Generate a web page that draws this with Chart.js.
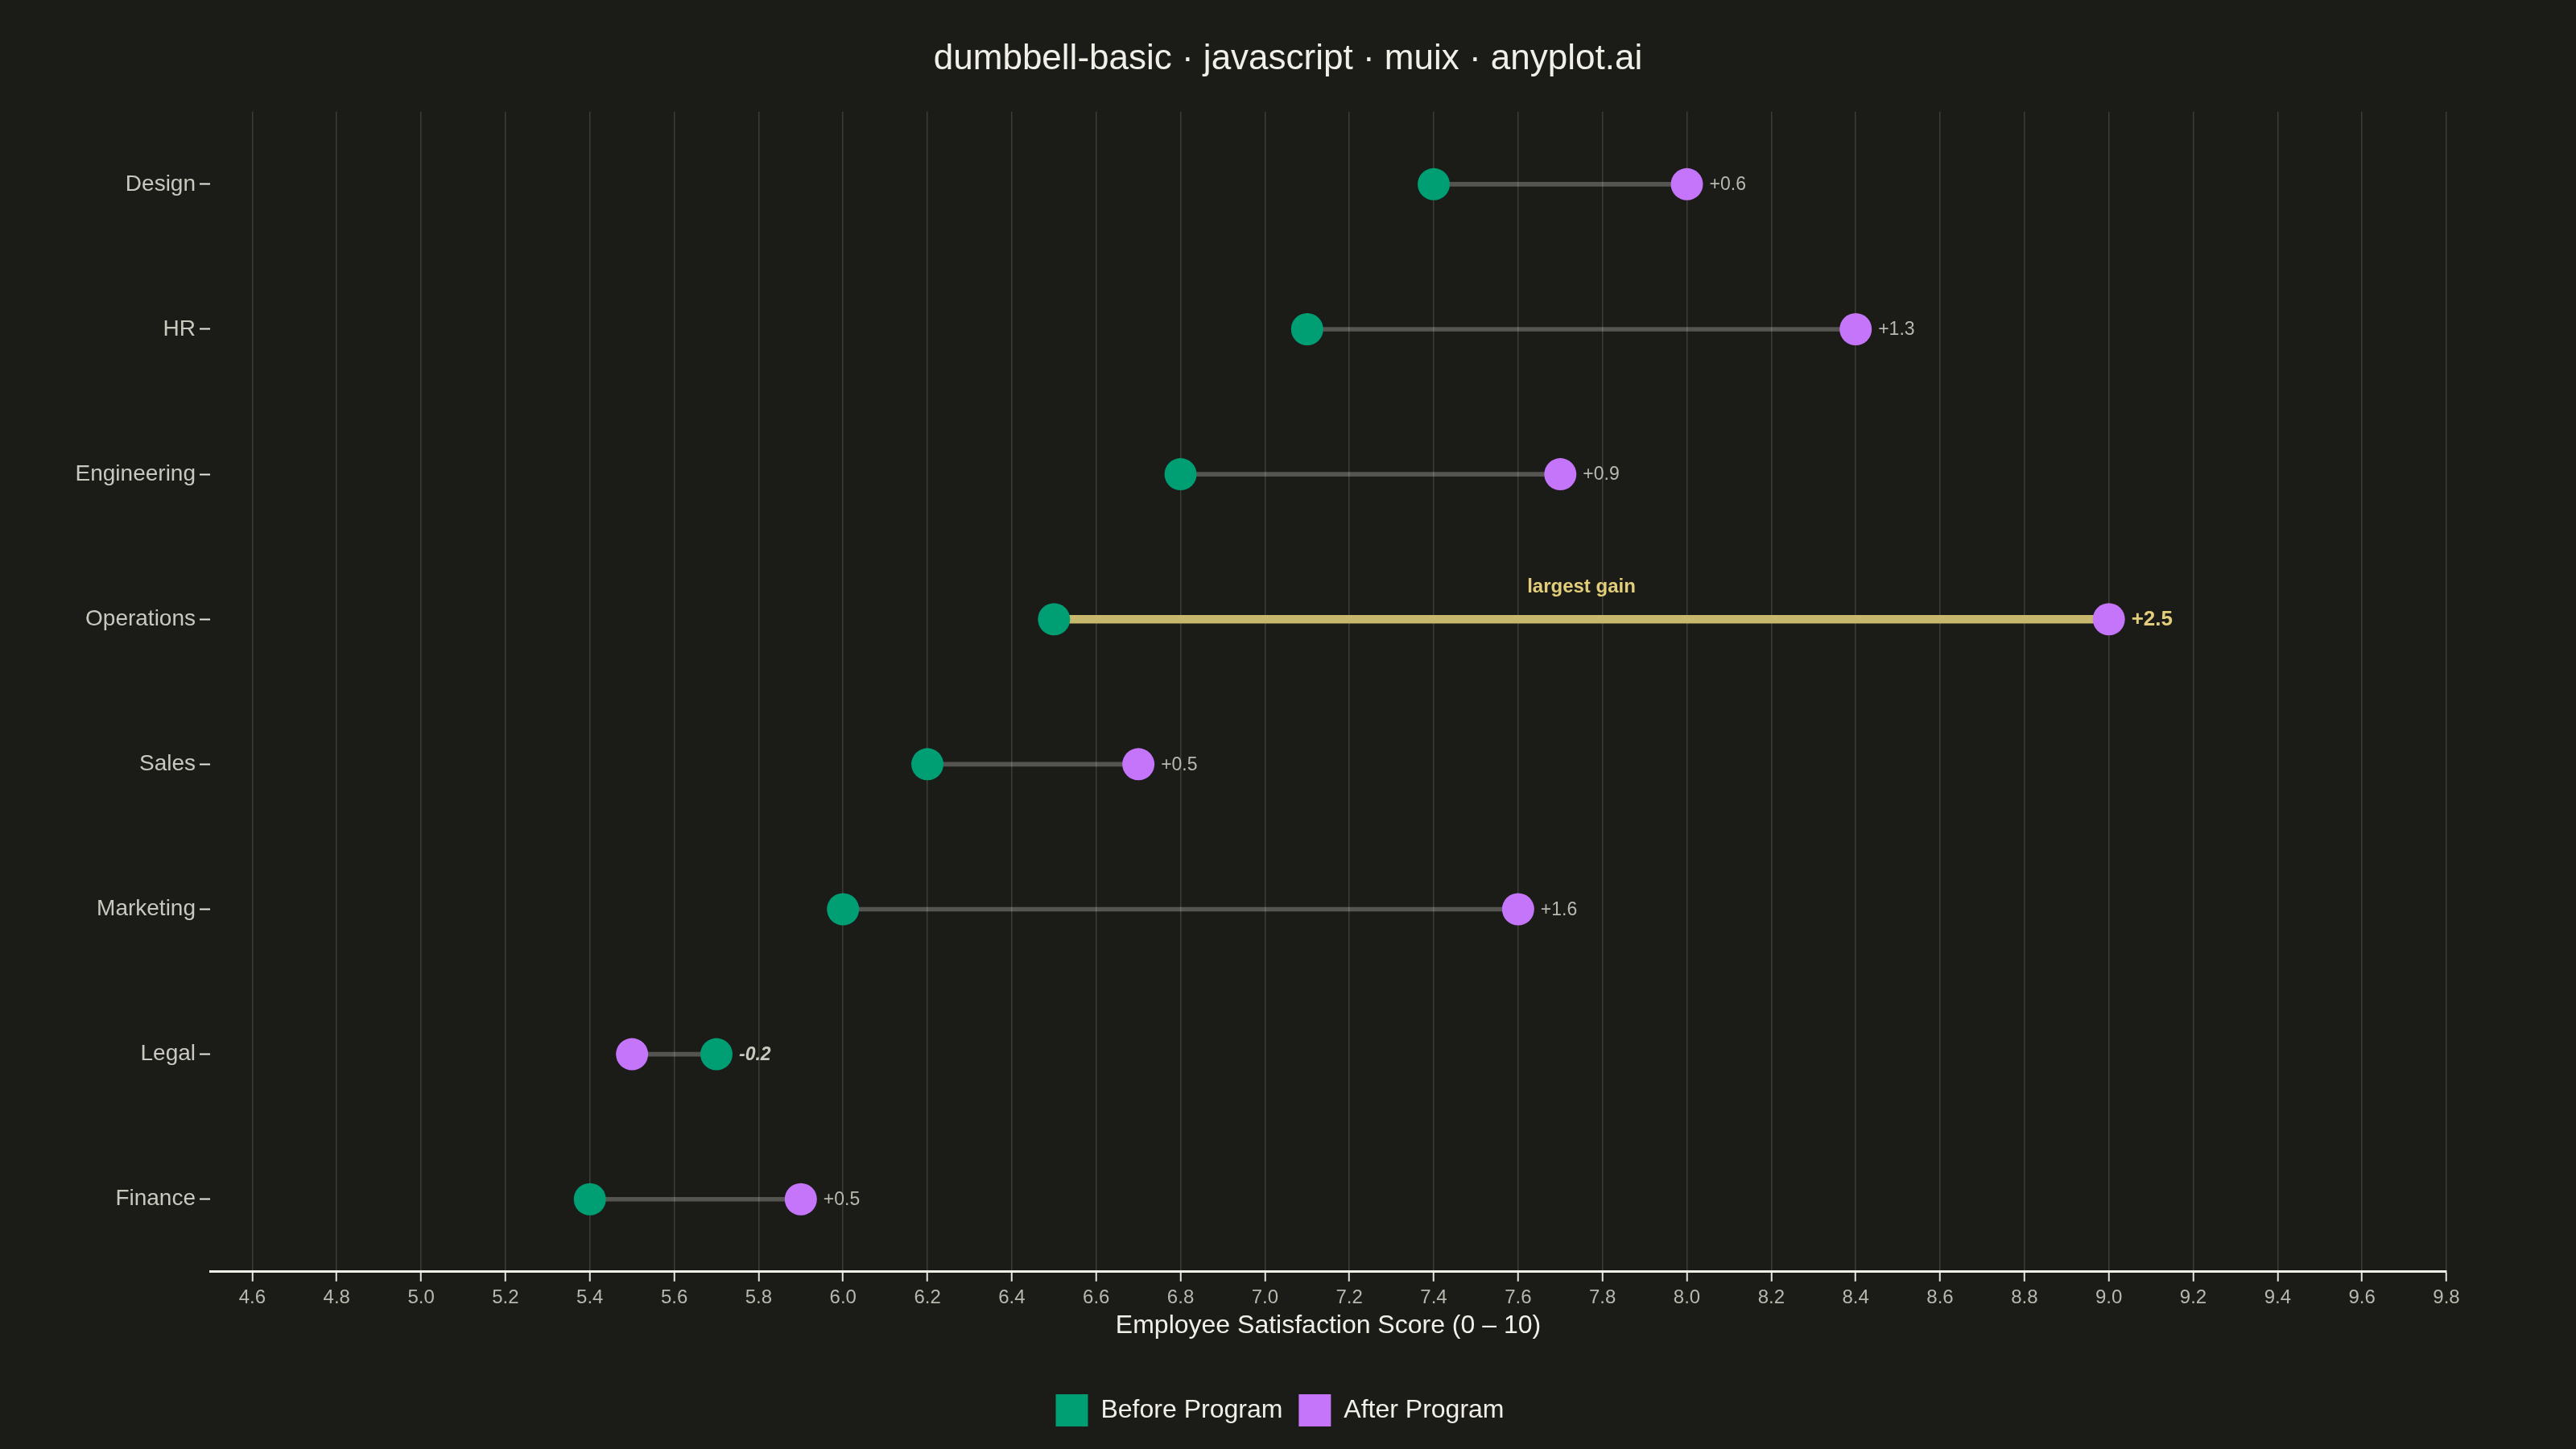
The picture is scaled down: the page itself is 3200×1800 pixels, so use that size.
<!DOCTYPE html>
<html>
<head>
<meta charset="utf-8">
<script src="https://cdn.jsdelivr.net/npm/chart.js@4.4.1/dist/chart.umd.min.js"></script>
<style>
  html, body { margin: 0; padding: 0; background: #1b1b17; }
  #wrap { width: 3200px; height: 1800px; }
</style>
</head>
<body>
<div id="wrap"><canvas id="chart" width="3200" height="1800"></canvas></div>
<script>
// Data
const departments = ['Design', 'HR', 'Engineering', 'Operations', 'Sales', 'Marketing', 'Legal', 'Finance']
const beforeScores = [7.4, 7.1, 6.8, 6.5, 6.2, 6.0, 5.7, 5.4]
const afterScores = [8.0, 8.4, 7.7, 9.0, 6.7, 7.6, 5.5, 5.9]
const xTickValues = [4.6, 4.8, 5.0, 5.2, 5.4, 5.6, 5.8, 6.0, 6.2, 6.4, 6.6, 6.8, 7.0, 7.2, 7.4, 7.6, 7.8,
  8.0, 8.2, 8.4, 8.6, 8.8, 9.0, 9.2, 9.4, 9.6, 9.8]

const GREEN = '#009E73'
const PURPLE = '#C475F9'
const GOLD = '#C8B86E'
const GOLD_TEXT = '#E2CE7A'
const FONT = "'Liberation Sans', Arial, sans-serif"

const gains = departments.map((d, i) => afterScores[i] - beforeScores[i])
const best = gains.indexOf(Math.max(...gains))

// Gain labels to the right of each dumbbell
const gainLabels = {
  id: 'gainLabels',
  afterDatasetsDraw(chart) {
    const { ctx, scales: { x, y } } = chart
    ctx.save()
    ctx.textBaseline = 'middle'
    departments.forEach((d, i) => {
      const g = gains[i]
      const text = (g > 0 ? '+' : '') + g.toFixed(1)
      const px = x.getPixelForValue(Math.max(beforeScores[i], afterScores[i])) + 28
      const py = y.getPixelForValue(i)
      ctx.textAlign = 'left'
      if (i === best) {
        ctx.font = `bold 26px ${FONT}`
        ctx.fillStyle = GOLD_TEXT
      } else if (g < 0) {
        ctx.font = `italic bold 23px ${FONT}`
        ctx.fillStyle = '#c9c8bf'
      } else {
        ctx.font = `23px ${FONT}`
        ctx.fillStyle = '#b9b8af'
      }
      ctx.fillText(text, px, py + 1)
      if (i === best) {
        const mid = x.getPixelForValue((beforeScores[i] + afterScores[i]) / 2)
        ctx.textAlign = 'center'
        ctx.font = `bold 24px ${FONT}`
        ctx.fillText('largest gain', mid, py - 40)
      }
    })
    ctx.restore()
  }
}

// Centre title and legend on the whole canvas, not on the padded area
const centerBlocks = {
  id: 'centerBlocks',
  afterLayout(chart) {
    const t = chart.titleBlock
    if (t) { t.left = 0; t.right = chart.width; t.width = chart.width }
    const l = chart.legend
    if (l) { l.left = 0; l.right = chart.width - 20; l.width = chart.width - 20 }
  }
}

new Chart(document.getElementById('chart'), {
  type: 'bar',
  data: {
    labels: departments,
    datasets: [
      {
        type: 'bar',
        label: 'connector',
        data: departments.map((d, i) => i === best ? null : [beforeScores[i], afterScores[i]]),
        backgroundColor: 'rgba(255,255,255,0.25)',
        barThickness: 5,
        grouped: false,
        order: 3
      },
      {
        type: 'bar',
        label: 'highlight',
        data: departments.map((d, i) => i === best ? [beforeScores[i], afterScores[i]] : null),
        backgroundColor: GOLD,
        barThickness: 10,
        grouped: false,
        order: 2
      },
      {
        type: 'line',
        label: 'Before Program',
        data: beforeScores,
        showLine: false,
        pointRadius: 20,
        pointHoverRadius: 20,
        pointBorderWidth: 0,
        pointBackgroundColor: GREEN,
        backgroundColor: GREEN,
        borderColor: GREEN,
        borderWidth: 0,
        order: 1
      },
      {
        type: 'line',
        label: 'After Program',
        data: afterScores,
        showLine: false,
        pointRadius: 20,
        pointHoverRadius: 20,
        pointBorderWidth: 0,
        pointBackgroundColor: PURPLE,
        backgroundColor: PURPLE,
        borderColor: PURPLE,
        borderWidth: 0,
        order: 0
      }
    ]
  },
  options: {
    indexAxis: 'y',
    responsive: false,
    devicePixelRatio: 1,
    animation: false,
    layout: {
      padding: { left: 0, right: 161, top: 0, bottom: 18 }
    },
    plugins: {
      title: {
        display: true,
        text: 'dumbbell-basic · javascript · muix · anyplot.ai',
        color: '#f0efe8',
        font: { family: FONT, size: 44, weight: 'normal' },
        padding: { top: 47, bottom: 39 }
      },
      legend: {
        position: 'bottom',
        labels: {
          color: '#f0efe8',
          font: { family: FONT, size: 32 },
          boxWidth: 40,
          boxHeight: 40,
          padding: 20,
          filter: item => item.datasetIndex >= 2,
          sort: (a, b) => a.datasetIndex - b.datasetIndex
        }
      },
      tooltip: { enabled: false }
    },
    scales: {
      x: {
        type: 'linear',
        position: 'bottom',
        min: 4.5,
        max: 9.8,
        afterBuildTicks: scale => { scale.ticks = xTickValues.map(v => ({ value: v })) },
        grid: {
          color: 'rgba(255,255,255,0.15)',
          lineWidth: 1.5,
          tickColor: '#e8e7df',
          tickLength: 12,
          tickWidth: 2
        },
        border: { display: true, color: '#f0efe8', width: 3 },
        ticks: {
          color: '#b9b8af',
          font: { family: FONT, size: 24 },
          padding: 6,
          maxRotation: 0,
          autoSkip: false,
          callback: v => Number(v).toFixed(1)
        },
        title: {
          display: true,
          text: 'Employee Satisfaction Score (0 – 10)',
          color: '#f0efe8',
          font: { family: FONT, size: 32 },
          padding: { top: -5, bottom: 46 }
        }
      },
      y: {
        type: 'category',
        position: 'left',
        offset: true,
        afterFit: scale => { scale.width = 261 },
        grid: {
          offset: false,
          drawOnChartArea: false,
          drawTicks: true,
          tickColor: '#e8e7df',
          tickLength: 13,
          tickWidth: 2
        },
        border: { display: false },
        ticks: {
          color: '#c9c8bf',
          font: { family: FONT, size: 28 },
          padding: 5
        }
      }
    }
  },
  plugins: [gainLabels, centerBlocks]
})
</script>
</body>
</html>
